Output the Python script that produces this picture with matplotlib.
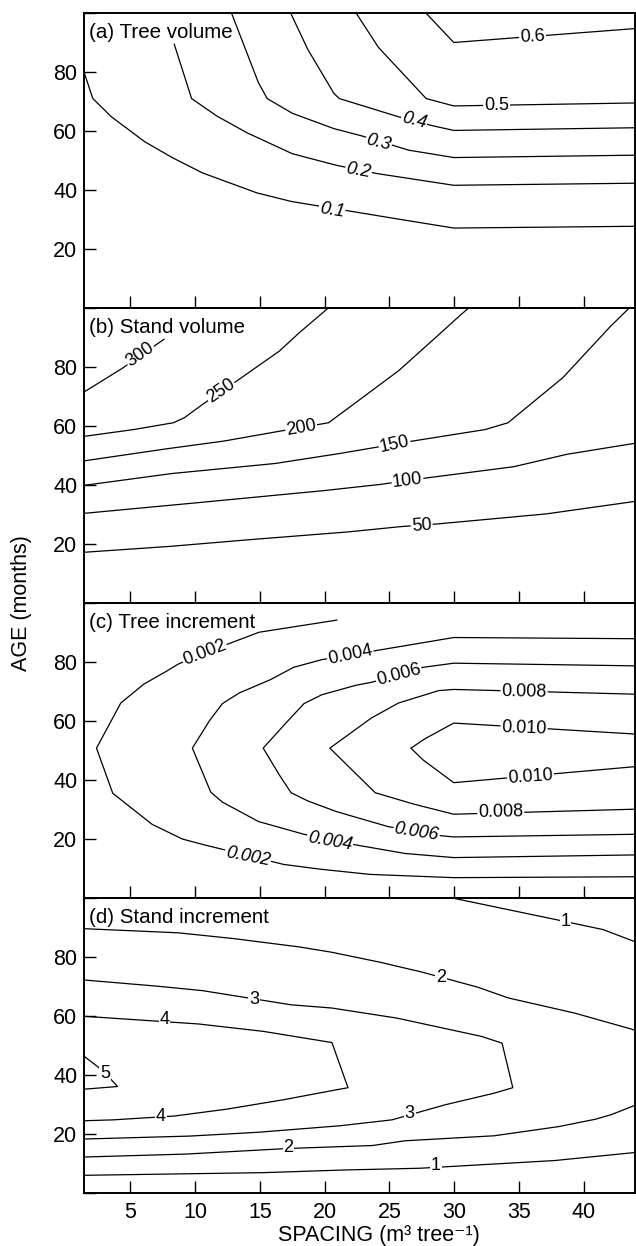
import matplotlib
matplotlib.use("Agg")
import matplotlib.pyplot as plt

plt.rcParams["font.family"] = ["Liberation Sans", "DejaVu Sans"]

# x/y limits of every panel
spacing_lim = (1.44, 44.0)
age_lim = (0, 100)
spacing_ticks = [5, 10, 15, 20, 25, 30, 35, 40]
age_ticks = [0, 20, 40, 60, 80, 100]
age_tick_labels = ["", "20", "40", "60", "80", ""]

# (a) Tree volume contours, (spacing, age) points
tv_01 = [(1.44, 79.7), (2.09, 71.1), (3.53, 64.9), (6.09, 56.5), (8.22, 51.1), (10.56, 45.9),
         (14.78, 39.1), (17.44, 36.2), (26.03, 30.0), (29.97, 27.2), (43.9, 27.8)]
tv_02 = [(8.38, 89.5), (9.72, 71.1), (11.66, 65.2), (14.0, 59.5), (17.5, 52.4), (20.88, 48.5),
         (24.0, 45.7), (29.97, 41.7), (43.9, 42.4)]
tv_03 = [(12.81, 100), (14.88, 76.5), (15.56, 71.1), (17.5, 66.1), (20.72, 60.9), (22.9, 58.4),
         (26.5, 53.6), (29.97, 51.1), (43.9, 51.9)]
tv_04 = [(17.38, 100), (18.69, 87.8), (20.72, 72.8), (21.13, 71.1), (25.72, 64.9), (28.22, 62.0),
         (29.97, 60.3), (43.9, 61.2)]
tv_05 = [(22.44, 100), (24.16, 88.4), (27.84, 71.1), (29.97, 68.6), (43.9, 69.6)]
tv_06 = [(27.84, 100), (29.97, 90.1), (43.9, 94.8)]

# (b) Stand volume contours
sv_300 = [(1.44, 71.7), (4.31, 79.5), (7.59, 89.5)]
sv_250 = [(1.44, 56.6), (5.25, 58.9), (8.31, 61.2), (9.16, 62.9), (10.56, 67.4), (13.38, 75.9),
          (16.5, 85.5), (18.06, 91.8), (20.25, 100)]
sv_200 = [(1.44, 48.3), (7.84, 52.4), (12.22, 55.0), (16.6, 58.4), (20.3, 61.2), (25.7, 78.8),
          (28.7, 90.6), (30.56, 98.0), (31.1, 100)]
sv_150 = [(1.44, 40.0), (8.22, 44.0), (16.19, 47.4), (21.19, 50.8), (26.8, 55.0), (32.4, 58.9),
          (34.16, 61.2), (38.4, 76.5), (42.1, 94.0), (43.5, 100)]
sv_100 = [(1.44, 30.5), (9.94, 34.0), (19.94, 38.2), (24.3, 40.3), (27.7, 42.4), (34.6, 46.3),
          (38.7, 50.5), (43.9, 54.2)]
sv_50 = [(1.44, 17.3), (8.06, 19.3), (14.3, 21.6), (21.8, 24.2), (25.9, 26.0), (28.7, 26.9),
         (37.1, 30.3), (43.9, 34.5)]

# (c) Tree increment contours
ti_002 = [(20.94, 94.3), (14.94, 90.2), (10.72, 83.2), (8.69, 79.4), (7.75, 76.9), (6.03, 72.6),
          (4.25, 66.2), (2.375, 50.9), (3.63, 35.6), (6.66, 25.1), (9.0, 20.1), (10.72, 18.1),
          (16.81, 11.5), (19.6, 9.9), (23.5, 8.1), (29.97, 7.0), (43.9, 7.3)]
ti_004 = [(43.9, 88.0), (29.97, 88.4), (27.4, 86.5), (19.78, 80.9), (17.6, 78.3), (15.8, 74.1),
          (13.4, 69.6), (12.1, 66.0), (11.1, 60.2), (9.78, 50.9), (11.2, 36.0), (12.1, 32.6),
          (14.9, 26.0), (18.4, 21.7), (22.4, 18.1), (26.2, 15.2), (29.97, 13.8), (43.9, 14.7)]
ti_006 = [(43.9, 78.8), (29.97, 79.7), (27.6, 78.3), (23.7, 73.3), (22.4, 72.2), (19.78, 69.0),
          (18.4, 66.0), (17.0, 59.4), (15.25, 50.9), (16.5, 41.8), (17.4, 35.8), (18.7, 33.0),
          (20.9, 29.4), (24.9, 24.3), (29.0, 21.2), (29.97, 20.8), (43.9, 21.7)]
ti_008 = [(43.9, 69.2), (29.97, 70.8), (28.8, 70.4), (25.7, 66.2), (23.6, 61.1), (20.4, 50.9),
          (23.9, 35.8), (26.9, 31.9), (29.97, 28.5), (43.9, 30.2)]
ti_010 = [(43.9, 55.7), (29.97, 59.4), (27.75, 54.1), (26.66, 50.9), (27.6, 46.9), (29.97, 39.2),
          (43.9, 44.6)]

# (d) Stand increment contours
si_1_top = [(29.97, 100), (38.06, 92.6), (41.5, 89.4), (43.9, 85.4)]
si_2_top = [(1.44, 89.7), (8.69, 88.3), (13.06, 86.3), (18.06, 83.5), (20.56, 81.7), (24.3, 78.3),
            (27.5, 75.0), (31.8, 69.9), (34.2, 66.2), (39.3, 61.1), (43.9, 55.4)]
si_3 = [(1.44, 72.3), (7.1, 70.2), (10.56, 68.7), (17.4, 63.9), (20.56, 62.8), (25.56, 59.4),
        (32.1, 53.2), (33.7, 50.9), (34.53, 35.8), (33.06, 33.9), (29.3, 30.0), (25.2, 24.9),
        (21.2, 22.9), (14.9, 20.7), (9.6, 19.4), (1.44, 18.4)]
si_4 = [(1.44, 60.0), (10.25, 57.4), (15.25, 54.9), (20.56, 51.1), (21.8, 35.8), (20.56, 34.8),
        (16.8, 31.7), (12.4, 28.5), (8.4, 26.2), (3.69, 24.9), (1.44, 24.6)]
si_5 = [(1.44, 46.4), (2.44, 43.0), (3.06, 40.7), (4.0, 36.2), (1.44, 35.3)]
si_2_low = [(1.44, 12.3), (9.3, 13.3), (17.2, 15.2), (23.7, 16.2), (26.2, 17.8), (33.1, 19.5),
            (38.06, 22.6), (40.9, 25.1), (42.1, 26.6), (43.9, 29.7)]
si_1_low = [(1.44, 6.1), (15.25, 7.0), (21.5, 7.9), (27.4, 8.5), (37.75, 11.1), (43.9, 13.8)]

# contour labels: text, spacing, age, rotation, italic
tv_labels = [("0.1", 20.56, 33.1, -9, True), ("0.2", 22.6, 46.5, -10, True),
             ("0.3", 24.16, 56.1, -14, True), ("0.4", 26.9, 63.5, -14, True),
             ("0.5", 33.3, 68.8, 0, False), ("0.6", 36.06, 92.0, 3, False)]
sv_labels = [("300", 5.72, 84.4, 35, False), ("250", 11.97, 72.0, 34, False),
             ("200", 18.2, 59.3, 10, False), ("150", 25.4, 53.9, 12, False),
             ("100", 26.4, 41.6, 7, False), ("50", 27.5, 26.1, 4, False)]
ti_labels = [("0.002", 10.72, 83.2, 21, False), ("0.004", 21.97, 82.6, 12, False),
             ("0.006", 25.72, 75.8, 15, False), ("0.008", 35.4, 70.0, -1, False),
             ("0.010", 35.4, 57.7, -2, False), ("0.010", 35.9, 41.1, 4, False),
             ("0.008", 33.6, 29.2, 1, False), ("0.006", 27.1, 22.6, -9, True),
             ("0.004", 20.4, 19.2, -10, True), ("0.002", 14.06, 14.1, -11, True)]
si_labels = [("1", 38.6, 92.1, 0, False), ("2", 29.0, 73.3, 0, False),
             ("3", 14.56, 65.6, 0, False), ("4", 7.62, 58.8, 0, False),
             ("5", 3.06, 40.7, 0, False), ("4", 7.34, 26.0, 0, False),
             ("3", 26.56, 26.9, 0, False), ("2", 17.2, 15.6, 0, False),
             ("1", 28.6, 9.4, 0, False)]

panels = [
    ("(a) Tree volume", [tv_01, tv_02, tv_03, tv_04, tv_05, tv_06], tv_labels),
    ("(b) Stand volume", [sv_300, sv_250, sv_200, sv_150, sv_100, sv_50], sv_labels),
    ("(c) Tree increment", [ti_002, ti_004, ti_006, ti_008, ti_010], ti_labels),
    ("(d) Stand increment", [si_1_top, si_2_top, si_3, si_4, si_5, si_2_low, si_1_low], si_labels),
]

fig = plt.figure(figsize=(6.36, 12.46), dpi=100)

left = 84.4 / 636
width = 551.0 / 636
height = 295.0 / 1246
bottom0 = 52.7 / 1246

for i, (title, lines, labels) in enumerate(panels):
    bottom = bottom0 + (3 - i) * height
    ax = fig.add_axes([left, bottom, width, height])
    for line in lines:
        xs = [p[0] for p in line]
        ys = [p[1] for p in line]
        ax.plot(xs, ys, color="black", lw=0.9, zorder=2)
    for txt, x, y, rot, ital in labels:
        ax.text(x, y, txt, fontsize=13, rotation=rot, ha="center", va="center",
                style="italic" if ital else "normal", rotation_mode="anchor",
                bbox=dict(facecolor="white", edgecolor="none", pad=0.6), zorder=3)
    ax.text(0.009, 0.936, title, transform=ax.transAxes, fontsize=14.8,
            ha="left", va="center", zorder=4,
            bbox=dict(facecolor="white", edgecolor="none", pad=0.5))
    ax.set_xlim(spacing_lim)
    ax.set_ylim(age_lim)
    ax.set_xticks(spacing_ticks)
    ax.set_yticks(age_ticks)
    ax.set_yticklabels(age_tick_labels)
    ax.tick_params(direction="in", length=8.5, width=1, labelsize=15.5)
    ax.tick_params(axis="y", pad=5)
    ax.tick_params(axis="x", pad=6)
    if i < 3:
        ax.set_xticklabels([])
    for s in ax.spines.values():
        s.set_linewidth(1.4)

fig.text(379 / 636, 1 - 1241.5 / 1246, "SPACING (m\u00b3 tree\u207b\u00b9)", fontsize=15.5,
         ha="center", va="baseline")
fig.text(22 / 636, 1 - 603.5 / 1246, "AGE (months)", fontsize=15.5, rotation=90,
         ha="center", va="center")

fig.savefig("out.png", dpi=100)
